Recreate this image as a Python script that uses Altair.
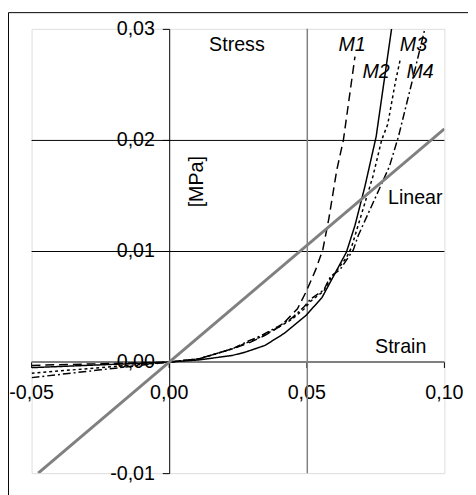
import altair as alt
import pandas as pd

# ---- data ----
x_ticks = [-0.05, 0.0, 0.05, 0.10]
y_ticks = [-0.01, 0.0, 0.01, 0.02, 0.03]
grid_y = [0.01, 0.02]
grid_x = [0.05]

m1_x = [-0.05, -0.025, 0.0, 0.011, 0.023, 0.0288, 0.0348, 0.0408, 0.0466, 0.0497, 0.0532, 0.0558, 0.058, 0.0609, 0.0633, 0.0675]
m1_y = [-0.0003, -0.00015, 0.0, 0.0003, 0.0012, 0.0017, 0.0024, 0.0033, 0.0048, 0.0063, 0.0083, 0.0101, 0.0129, 0.0173, 0.0200, 0.0275]

m2_x = [-0.05, -0.025, 0.0, 0.011, 0.023, 0.0277, 0.0348, 0.0419, 0.0497, 0.0555, 0.0644, 0.0675, 0.0711, 0.0752, 0.0808]
m2_y = [-0.0005, -0.00025, 0.0, 0.0002, 0.0006, 0.0009, 0.0015, 0.0026, 0.0042, 0.0058, 0.0099, 0.0123, 0.0158, 0.0203, 0.0300]

m3_x = [-0.05, -0.025, 0.0, 0.011, 0.023, 0.0288, 0.0336, 0.0395, 0.0443, 0.0491, 0.0515, 0.0562, 0.0586, 0.0644, 0.0662, 0.0740, 0.0772, 0.0794, 0.0821, 0.0840]
m3_y = [-0.0010, -0.0005, 0.0, 0.0003, 0.0012, 0.0018, 0.0023, 0.0031, 0.0038, 0.0048, 0.0055, 0.0064, 0.0075, 0.0094, 0.0103, 0.0167, 0.0200, 0.0214, 0.0251, 0.0273]

m4_x = [-0.05, -0.025, 0.0, 0.011, 0.023, 0.0288, 0.0336, 0.0395, 0.0443, 0.0491, 0.0515, 0.0562, 0.0586, 0.0620, 0.0669, 0.0687, 0.0740, 0.0800, 0.0833, 0.0883, 0.0929]
m4_y = [-0.0014, -0.0007, 0.0, 0.0003, 0.0012, 0.0019, 0.0024, 0.0032, 0.0039, 0.0050, 0.0057, 0.0065, 0.0077, 0.0083, 0.0101, 0.0114, 0.0143, 0.0176, 0.0203, 0.0253, 0.0300]

linear_x = [-0.0476, 0.10]
linear_y = [-0.010, 0.021]

series_names = ["M1", "M2", "M3", "M4"]

# annotation anchors (data units)
plain_labels = ["Stress", "Linear", "Strain"]
plain_x = [0.0145, 0.0795, 0.0748]
plain_y = [0.02797, 0.01425, 0.0008]

italic_labels = ["M1", "M2", "M3", "M4"]
italic_x = [0.0615, 0.0702, 0.0838, 0.0862]
italic_y = [0.02797, 0.02558, 0.02797, 0.02558]

unit_label = ["[MPa]"]
unit_x = [0.01226]
unit_y = [0.01624]

# ---- build tables ----
rows = []
for name, xs_, ys_ in zip(series_names, [m1_x, m2_x, m3_x, m4_x], [m1_y, m2_y, m3_y, m4_y]):
    for a, b in zip(xs_, ys_):
        rows.append({"series": name, "x": a, "y": b})
curves = pd.DataFrame(rows)
linear = pd.DataFrame({"x": linear_x, "y": linear_y})

W, H = 420, 452
FONT = "Liberation Sans"

xscale = alt.Scale(domain=[-0.05, 0.10], nice=False, zero=False)
yscale = alt.Scale(domain=[-0.01, 0.03], nice=False, zero=False)
fmt = "(datum.value < 0 ? '-' : '') + replace(format(abs(datum.value), '.2f'), '.', ',')"

x_axis = alt.Axis(values=x_ticks, labelExpr=fmt, title=None, grid=False,
                  offset=-H * 0.01 / 0.04, translate=0, domainColor="#808080", domainWidth=2,
                  tickColor="black", tickSize=6, tickWidth=1, labelPadding=16,
                  labelFont=FONT, labelFontSize=20, labelColor="black",
                  labelFlush=False, labelOverlap=False, labelBound=False)
y_axis = alt.Axis(values=y_ticks, labelExpr=fmt, title=None, grid=False,
                  offset=-W / 3, domainColor="black", domainWidth=1,
                  tickColor="black", tickSize=7, tickWidth=1, labelPadding=8,
                  labelFont=FONT, labelFontSize=20, labelColor="black",
                  labelFlush=False, labelOverlap=False, labelBound=False)

X = alt.X("x:Q", scale=xscale, axis=x_axis)
Y = alt.Y("y:Q", scale=yscale, axis=y_axis)

frame = alt.Chart(pd.DataFrame({"a": [0]})).mark_rect(
    fillOpacity=0, stroke="black", strokeWidth=1
).encode(x=alt.value(-23.5), x2=alt.value(W + 60), y=alt.value(-16.5), y2=alt.value(H + 60))

hgrid = alt.Chart(pd.DataFrame({"y": grid_y})).mark_rule(
    color="black", strokeWidth=1, yOffset=0.5
).encode(y=Y)
vgrid = alt.Chart(pd.DataFrame({"x": grid_x})).mark_rule(
    color="#808080", strokeWidth=1.5, xOffset=0.5
).encode(x=X)

curve_layer = alt.Chart(curves).mark_line(color="black", strokeWidth=1.5, clip=True).encode(
    x=X, y=Y,
    detail="series:N",
    strokeDash=alt.StrokeDash("series:N", legend=None,
                              scale=alt.Scale(domain=series_names,
                                              range=[[9, 5], [1, 0], [3, 3], [8, 3, 2, 3]])),
)

linear_layer = alt.Chart(linear).mark_line(color="#808080", strokeWidth=3, clip=True).encode(x=X, y=Y)

plain_text = alt.Chart(pd.DataFrame({"t": plain_labels, "x": plain_x, "y": plain_y})).mark_text(
    align="left", baseline="alphabetic", font=FONT, fontSize=20, color="black"
).encode(x=X, y=Y, text="t:N")

italic_text = alt.Chart(pd.DataFrame({"t": italic_labels, "x": italic_x, "y": italic_y})).mark_text(
    align="left", baseline="alphabetic", font=FONT, fontSize=20, fontStyle="italic", color="black"
).encode(x=X, y=Y, text="t:N")

unit_text = alt.Chart(pd.DataFrame({"t": unit_label, "x": unit_x, "y": unit_y})).mark_text(
    align="center", baseline="alphabetic", font=FONT, fontSize=20, angle=270, color="black"
).encode(x=X, y=Y, text="t:N")

chart = alt.layer(
    frame, hgrid, vgrid, curve_layer, linear_layer, plain_text, italic_text, unit_text
).properties(
    width=W, height=H,
    padding={"left": 24, "top": 17, "right": 24, "bottom": 18},
    autosize=alt.AutoSizeParams(type="none"),
).configure_view(
    stroke="#808080", strokeWidth=2
).configure(background="white")

chart.save("out.html", embed_options={"renderer": "svg", "actions": False})
